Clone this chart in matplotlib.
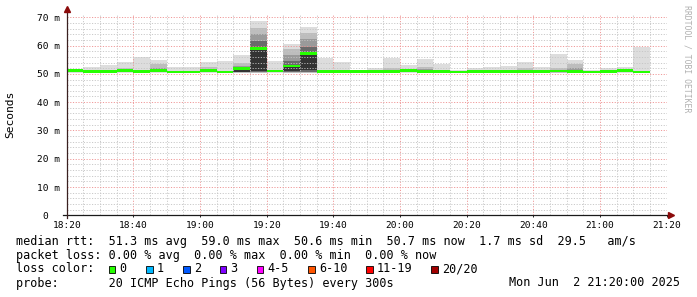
import matplotlib
matplotlib.use('Agg')
import matplotlib.pyplot as plt
from matplotlib.patches import Rectangle
from matplotlib.ticker import MultipleLocator
import numpy as np

plt.rcParams['font.family'] = 'DejaVu Sans Mono'

W, H = 697, 297

# 5 minute buckets, minutes after 18:20
bucket_start = [0, 5, 10, 15, 20, 25, 30, 35, 40, 45,
                50, 55, 60, 65, 70, 75, 80, 85, 90, 95,
                100, 105, 110, 115, 120, 125, 130, 135, 140, 145,
                150, 155, 160, 165, 170]

# median rtt per bucket (ms)
median = [51.1, 50.8, 50.8, 51.2, 50.8, 51.2, 50.7, 50.6, 51.2, 50.7,
          51.9, 59.0, 51.0, 52.8, 57.2, 50.8, 50.8, 50.8, 50.8, 50.9,
          51.2, 50.9, 50.8, 50.7, 50.8, 50.8, 50.8, 50.9, 50.8, 51.0,
          50.8, 50.7, 50.8, 51.2, 50.7]
loss = [0] * 35

# smoke: fastest / slowest ping of each bucket (ms)
smoke_lo = [50.4, 50.3, 50.3, 50.4, 50.3, 50.4, 50.2, 50.2, 50.4, 50.3,
            50.4, 50.2, 50.3, 50.3, 50.3, 50.3, 50.3, 50.3, 50.3, 50.3,
            50.4, 50.3, 50.3, 50.2, 50.3, 50.3, 50.3, 50.3, 50.3, 50.4,
            50.3, 50.2, 50.3, 50.4, 50.2]
smoke_hi = [51.5, 52.3, 53.1, 54.1, 56.0, 54.9, 52.4, 52.4, 54.3, 54.6,
            56.6, 68.7, 54.5, 60.6, 66.5, 55.7, 54.1, 51.5, 52.0, 55.7,
            53.2, 55.3, 53.5, 51.2, 52.0, 52.5, 52.8, 54.3, 52.3, 57.0,
            54.9, 51.3, 52.0, 52.3, 59.6]

# inner (denser) smoke bands, bucket index -> (lo, hi)
band2 = {3: (50.5, 52.0), 5: (50.5, 53.4), 8: (50.5, 52.6), 10: (50.4, 54.0),
         11: (50.3, 66.3), 13: (50.4, 58.8), 14: (50.4, 64.6), 19: (50.4, 52.0),
         21: (50.4, 52.6), 27: (50.4, 52.0), 29: (50.4, 52.2), 30: (50.4, 53.6)}
band3 = {5: (50.6, 52.2), 8: (50.6, 51.7), 10: (50.5, 52.8), 11: (50.5, 64.0),
         13: (50.6, 56.8), 14: (50.6, 62.2), 21: (50.6, 51.8), 30: (50.6, 52.2)}
band4 = {10: (50.6, 52.0), 11: (50.7, 61.5), 13: (50.8, 54.6), 14: (50.8, 59.5)}
band5 = {10: (50.7, 51.5), 11: (51.0, 58.6), 13: (51.1, 52.4), 14: (51.2, 56.6)}

smoke_shades = ['#dddddd', '#bdbdbd', '#9a9a9a', '#6a6a6a', '#333333']

loss_labels = ['0', '1', '2', '3', '4-5', '6-10', '11-19', '20/20']
loss_colors = ['#26ff00', '#00b8ff', '#0059ff', '#7e00ff', '#ff00ff',
               '#ff5500', '#ff0000', '#a10000']

x_ticks = [0, 20, 40, 60, 80, 100, 120, 140, 160, 180]
x_labels = ['18:20', '18:40', '19:00', '19:20', '19:40', '20:00',
            '20:20', '20:40', '21:00', '21:20']
y_ticks = [0, 10, 20, 30, 40, 50, 60, 70]
y_labels = ['0  ', '10 m', '20 m', '30 m', '40 m', '50 m', '60 m', '70 m']

legend_lines = [
    'median rtt:  51.3 ms avg  59.0 ms max  50.6 ms min  50.7 ms now  1.7 ms sd  29.5   am/s',
    'packet loss: 0.00 % avg  0.00 % max  0.00 % min  0.00 % now',
    'loss color:',
    'probe:       20 ICMP Echo Pings (56 Bytes) every 300s',
]
stamp = 'Mon Jun  2 21:20:00 2025'


def px(x, y):
    return x / W, 1 - y / H


fig = plt.figure(figsize=(W / 100, H / 100), dpi=100, facecolor='white')
ax = fig.add_axes([66.7 / W, (H - 215.3) / H, 600 / W, 200 / H])
ax.set_xlim(0, 180)
ax.set_ylim(0, 70.7)

# smoke
ax.bar(bucket_start, np.subtract(smoke_hi, smoke_lo), bottom=smoke_lo, width=5,
       align='edge', color=smoke_shades[0], lw=0, zorder=1)
for shade, band in zip(smoke_shades[1:], [band2, band3, band4, band5]):
    idx = sorted(band)
    ax.bar([bucket_start[i] for i in idx], [band[i][1] - band[i][0] for i in idx],
           bottom=[band[i][0] for i in idx], width=5, align='edge',
           color=shade, lw=0, zorder=1)

# median line, coloured by packet loss
half = 0.45
ax.bar(bucket_start, 2 * half, bottom=np.array(median) - half, width=5, align='edge',
       color=[loss_colors[l] for l in loss], lw=0, zorder=3)

# grid on top of the smoke, like rrdtool
ax.set_axisbelow(False)
ax.xaxis.set_minor_locator(MultipleLocator(5))
ax.yaxis.set_minor_locator(MultipleLocator(2))
ax.set_xticks(x_ticks, x_labels)
ax.set_yticks(y_ticks, y_labels)
ax.grid(True, which='minor', color='#c4c4c4', lw=0.7, ls=(0, (1.2, 1.6)), alpha=0.9)
ax.grid(True, which='major', color='#ee8f8f', lw=0.7, ls=(0, (1.2, 1.6)), alpha=0.9)
ax.tick_params(which='minor', length=0)
ax.tick_params(axis='x', which='major', length=1.5, width=0.7, pad=2.5, labelsize=6.8, color='#222222')
ax.tick_params(axis='y', which='major', length=0, pad=4.6, labelsize=6.8)
for s in ax.spines.values():
    s.set_visible(False)

# axes with arrows
ax.plot([-1.0, 181.2], [0, 0], color='#1a1a1a', lw=0.9, clip_on=False, zorder=4)
ax.plot([0, 0], [-0.9, 72.6], color='#3a2020', lw=0.9, clip_on=False, zorder=4)
ax.plot([181.3], [0], marker='>', ms=4, color='#8b0a0a', clip_on=False, zorder=5)
ax.plot([0], [72.8], marker='^', ms=4, color='#8b0a0a', clip_on=False, zorder=5)

fig.text(*px(10, 114), 'Seconds', rotation=90, ha='center', va='center', fontsize=8.1)
fig.text(*px(687.5, 59), 'RRDTOOL / TOBI OETIKER', rotation=270, ha='center',
         va='center', fontsize=5.9, color='#b0b0b0')

# legend block
fs = 8.45
for y, s in zip([241, 255, 269, 283], legend_lines):
    fig.text(*px(16, y), s, ha='left', va='center', fontsize=fs)
fig.text(*px(680, 283), stamp, ha='right', va='center', fontsize=fs)

box_x = [108.5, 145.7, 182.7, 219.5, 256.5, 307.8, 366.0, 431.0]
for bx, lab, col in zip(box_x, loss_labels, loss_colors):
    fig.add_artist(Rectangle(px(bx, 272.5), 6.8 / W, 6.8 / H, transform=fig.transFigure,
                             facecolor=col, edgecolor='black', lw=0.6))
    fig.text(*px(bx + 11, 269), lab, ha='left', va='center', fontsize=fs)

fig.savefig('out.png', dpi=100, facecolor='white')
